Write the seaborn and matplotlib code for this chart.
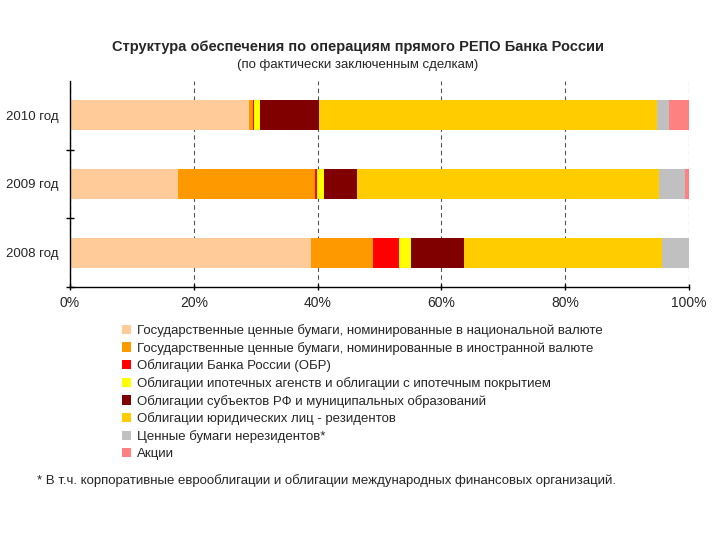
import numpy as np
import pandas as pd
import matplotlib
matplotlib.use("Agg")
import matplotlib.pyplot as plt
import seaborn as sns
from matplotlib.patches import Patch
from matplotlib.ticker import FixedLocator, PercentFormatter

sns.set_style("white")
plt.rcParams['font.family'] = ['Liberation Sans', 'DejaVu Sans']

# data, % of collateral
years = ['2010 год', '2009 год', '2008 год']
categories = [
    'Государственные ценные бумаги, номинированные в национальной валюте',
    'Государственные ценные бумаги, номинированные в иностранной валюте',
    'Облигации Банка России (ОБР)',
    'Облигации ипотечных агенств и облигации с ипотечным покрытием',
    'Облигации субъектов РФ и муниципальных образований',
    'Облигации юридических лиц - резидентов',
    'Ценные бумаги нерезидентов*',
    'Акции',
]
share_2010 = [28.9, 0.7, 0.2, 0.9, 9.5, 54.6, 1.9, 3.3]
share_2009 = [17.5, 22.1, 0.3, 1.2, 5.3, 48.8, 4.1, 0.7]
share_2008 = [38.9, 10.0, 4.2, 2.0, 8.6, 32.0, 4.3, 0.0]
colors = ['#FFCC99', '#FF9900', '#FF0000', '#FFFF00',
          '#800000', '#FFCC00', '#C0C0C0', '#FF8080']

df = pd.DataFrame([share_2010, share_2009, share_2008], index=years, columns=categories)
cum = df.cumsum(axis=1)

fig = plt.figure(figsize=(7.2, 5.4), dpi=100)
ax = fig.add_axes([70 / 720, 1 - 287 / 540, 619 / 720, 206 / 540])

# stacked bars: draw running totals from the last segment to the first
for cat, col in reversed(list(zip(categories, colors))):
    sns.barplot(x=cum[cat].values, y=years, order=years, color=col,
                saturation=1, width=0.44, orient='h', ax=ax, linewidth=0)

ax.set_xlim(0, 100)
ax.set_ylim(2.5, -0.5)
ax.set_xlabel('')
ax.set_ylabel('')
ax.xaxis.set_major_locator(FixedLocator([0, 20, 40, 60, 80, 100]))
ax.xaxis.set_major_formatter(PercentFormatter(decimals=0))
ax.set_axisbelow(True)
ax.xaxis.grid(True, linestyle=(0, (4, 3)), color='#555555', linewidth=0.8)
ax.yaxis.grid(False)
ax.yaxis.set_minor_locator(FixedLocator([0.5, 1.5, 2.5]))
ax.tick_params(axis='y', which='major', left=True, length=0, labelsize=9.5, pad=8)
ax.tick_params(axis='y', which='minor', left=True, length=6, direction='inout',
               width=1, color='black')
ax.tick_params(axis='x', which='major', bottom=True, length=5, direction='inout', width=1,
               color='black', labelsize=10, pad=4)
for s in ['top', 'right']:
    ax.spines[s].set_visible(False)
for s in ['left', 'bottom']:
    ax.spines[s].set_color('black')
    ax.spines[s].set_linewidth(1)

fig.text(358 / 720, 1 - 47 / 540, 'Структура обеспечения по операциям прямого РЕПО Банка России',
         ha='center', va='center', fontsize=10.5, fontweight='bold')
fig.text(358 / 720, 1 - 65 / 540, '(по фактически заключенным сделкам)',
         ha='center', va='center', fontsize=9.5)

handles = [Patch(facecolor=c, edgecolor='none') for c in colors]
fig.legend(handles, categories, loc='upper left', bbox_to_anchor=(122 / 720, 1 - 324 / 540),
           frameon=False, fontsize=9.5, handlelength=0.7, handleheight=0.7,
           handletextpad=0.4, labelspacing=0.36, borderpad=0, borderaxespad=0)

fig.text(37 / 720, 1 - 481 / 540,
         '* В т.ч. корпоративные еврооблигации и облигации международных финансовых организаций.',
         ha='left', va='center', fontsize=9.5)

fig.savefig('out.png', dpi=100)
